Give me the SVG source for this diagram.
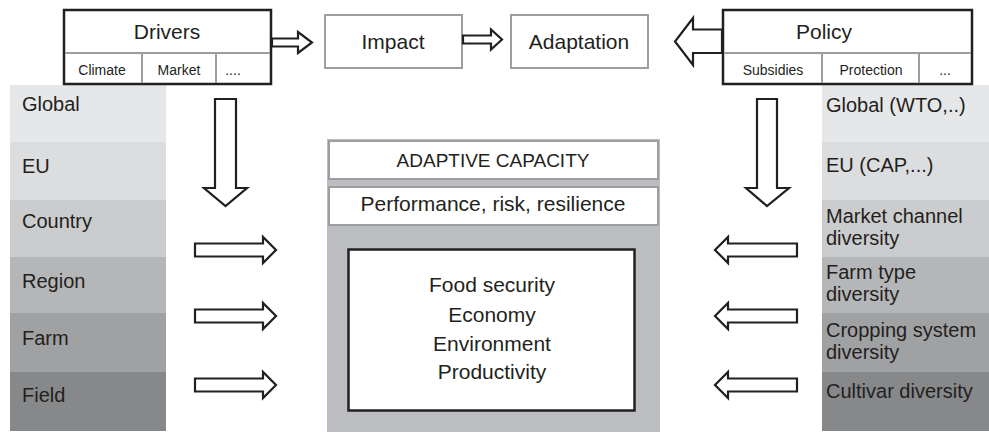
<svg xmlns="http://www.w3.org/2000/svg" width="989" height="433" viewBox="0 0 989 433">
<style>
text{font-family:"Liberation Sans",Arial,sans-serif;fill:#231f20}
.big{font-size:21px}
.lbl{font-size:20px}
.sm{font-size:14px}
.mid{text-anchor:middle}
.blk{fill:#fff;stroke:#231f20;stroke-width:2.5}
.gry{fill:#fff;stroke:#9d9ea1;stroke-width:2}
.div{stroke:#9d9ea1;stroke-width:2}
.arr{fill:#fff;stroke:#231f20;stroke-width:2.2;stroke-linejoin:miter}
</style>
<rect width="989" height="433" fill="#fff"/>

<g id="levels-left">
<rect x="10" y="85" width="156" height="57" fill="#e6e7e8"/>
<rect x="10" y="142" width="156" height="58" fill="#dcdddf"/>
<rect x="10" y="200" width="156" height="57" fill="#cbcccd"/>
<rect x="10" y="257" width="156" height="56" fill="#b5b6b8"/>
<rect x="10" y="313" width="156" height="59" fill="#a0a1a3"/>
<rect x="10" y="372" width="156" height="59" fill="#87888a"/>
<text class="lbl" x="22" y="111">Global</text>
<text class="lbl" x="22" y="173">EU</text>
<text class="lbl" x="22" y="228">Country</text>
<text class="lbl" x="22" y="288">Region</text>
<text class="lbl" x="22" y="345">Farm</text>
<text class="lbl" x="22" y="402">Field</text>
</g>

<g id="levels-right">
<rect x="822" y="85" width="167" height="57" fill="#e6e7e8"/>
<rect x="822" y="142" width="167" height="58" fill="#dcdddf"/>
<rect x="822" y="200" width="167" height="57" fill="#cbcccd"/>
<rect x="822" y="257" width="167" height="56" fill="#b5b6b8"/>
<rect x="822" y="313" width="167" height="59" fill="#a0a1a3"/>
<rect x="822" y="372" width="167" height="59" fill="#87888a"/>
<text class="lbl" x="826" y="112">Global (WTO,..)</text>
<text class="lbl" x="826" y="172">EU (CAP,...)</text>
<text class="lbl" x="826" y="223">Market channel</text>
<text class="lbl" x="826" y="245">diversity</text>
<text class="lbl" x="826" y="279">Farm type</text>
<text class="lbl" x="826" y="301">diversity</text>
<text class="lbl" x="826" y="337">Cropping system</text>
<text class="lbl" x="826" y="359">diversity</text>
<text class="lbl" x="826" y="398">Cultivar diversity</text>
</g>

<g id="drivers">
<rect class="blk" x="64" y="10" width="207" height="74"/>
<line class="div" x1="65" y1="53" x2="270" y2="53"/>
<line class="div" x1="142" y1="53" x2="142" y2="83"/>
<line class="div" x1="216" y1="53" x2="216" y2="83"/>
<text class="big mid" x="167" y="39">Drivers</text>
<text class="sm mid" x="102" y="75">Climate</text>
<text class="sm mid" x="179" y="75">Market</text>
<text class="sm mid" x="233" y="75">....</text>
</g>

<g id="impact">
<rect class="gry" x="325" y="15" width="137" height="53"/>
<text class="big mid" x="393" y="49">Impact</text>
</g>

<g id="adaptation">
<rect class="gry" x="511" y="15" width="137" height="53"/>
<text class="big mid" x="579" y="49">Adaptation</text>
</g>

<g id="policy">
<rect class="blk" x="723" y="10" width="249" height="74"/>
<line class="div" x1="724" y1="53" x2="971" y2="53"/>
<line class="div" x1="822" y1="53" x2="822" y2="83"/>
<line class="div" x1="919" y1="53" x2="919" y2="83"/>
<text class="big mid" x="824" y="39">Policy</text>
<text class="sm mid" x="773" y="75">Subsidies</text>
<text class="sm mid" x="871" y="75">Protection</text>
<text class="sm mid" x="945" y="75">...</text>
</g>

<g id="adaptive-capacity">
<rect x="327" y="139" width="333" height="293" fill="#bcbdc0"/>
<rect class="gry" x="329" y="141" width="329" height="38"/>
<text class="lbl mid" x="493" y="167" style="font-size:19px">ADAPTIVE CAPACITY</text>
<rect class="gry" x="329" y="187" width="329" height="38"/>
<text class="big mid" x="493" y="211">Performance, risk, resilience</text>
</g>

<g id="outcomes">
<rect class="blk" x="348.5" y="249.5" width="286" height="161"/>
<text class="big mid" x="492" y="292">Food security</text>
<text class="big mid" x="492" y="322">Economy</text>
<text class="big mid" x="492" y="351">Environment</text>
<text class="big mid" x="492" y="379">Productivity</text>
</g>

<g id="connectors">
<polygon class="arr" points="272,38.5 298,38.5 298,32 312,42.5 298,53 298,46.5 272,46.5"/>
<polygon class="arr" points="463,35.5 491,35.5 491,29.5 502,39.5 491,49.5 491,43.5 463,43.5"/>
<polygon class="arr" points="722,29.5 693,29.5 693,18 675,41.5 693,65 693,53 722,53"/>
<polygon class="arr" points="215,99 236,99 236,188 247,188 225.5,206 204,188 215,188"/>
<polygon class="arr" points="757,99 777,99 777,188 789,188 767,206 746,188 757,188"/>
<polygon class="arr" points="195,243.5 263,243.5 263,237 276,250 263,263 263,256.5 195,256.5"/>
<polygon class="arr" points="195,309.5 263,309.5 263,303 276,316 263,329 263,322.5 195,322.5"/>
<polygon class="arr" points="195,378.5 263,378.5 263,372 276,385 263,398 263,391.5 195,391.5"/>
<polygon class="arr" points="797,243.5 728,243.5 728,237 715,250 728,263 728,256.5 797,256.5"/>
<polygon class="arr" points="797,309.5 728,309.5 728,303 715,316 728,329 728,322.5 797,322.5"/>
<polygon class="arr" points="797,378.5 728,378.5 728,372 715,385 728,398 728,391.5 797,391.5"/>
</g>
</svg>
